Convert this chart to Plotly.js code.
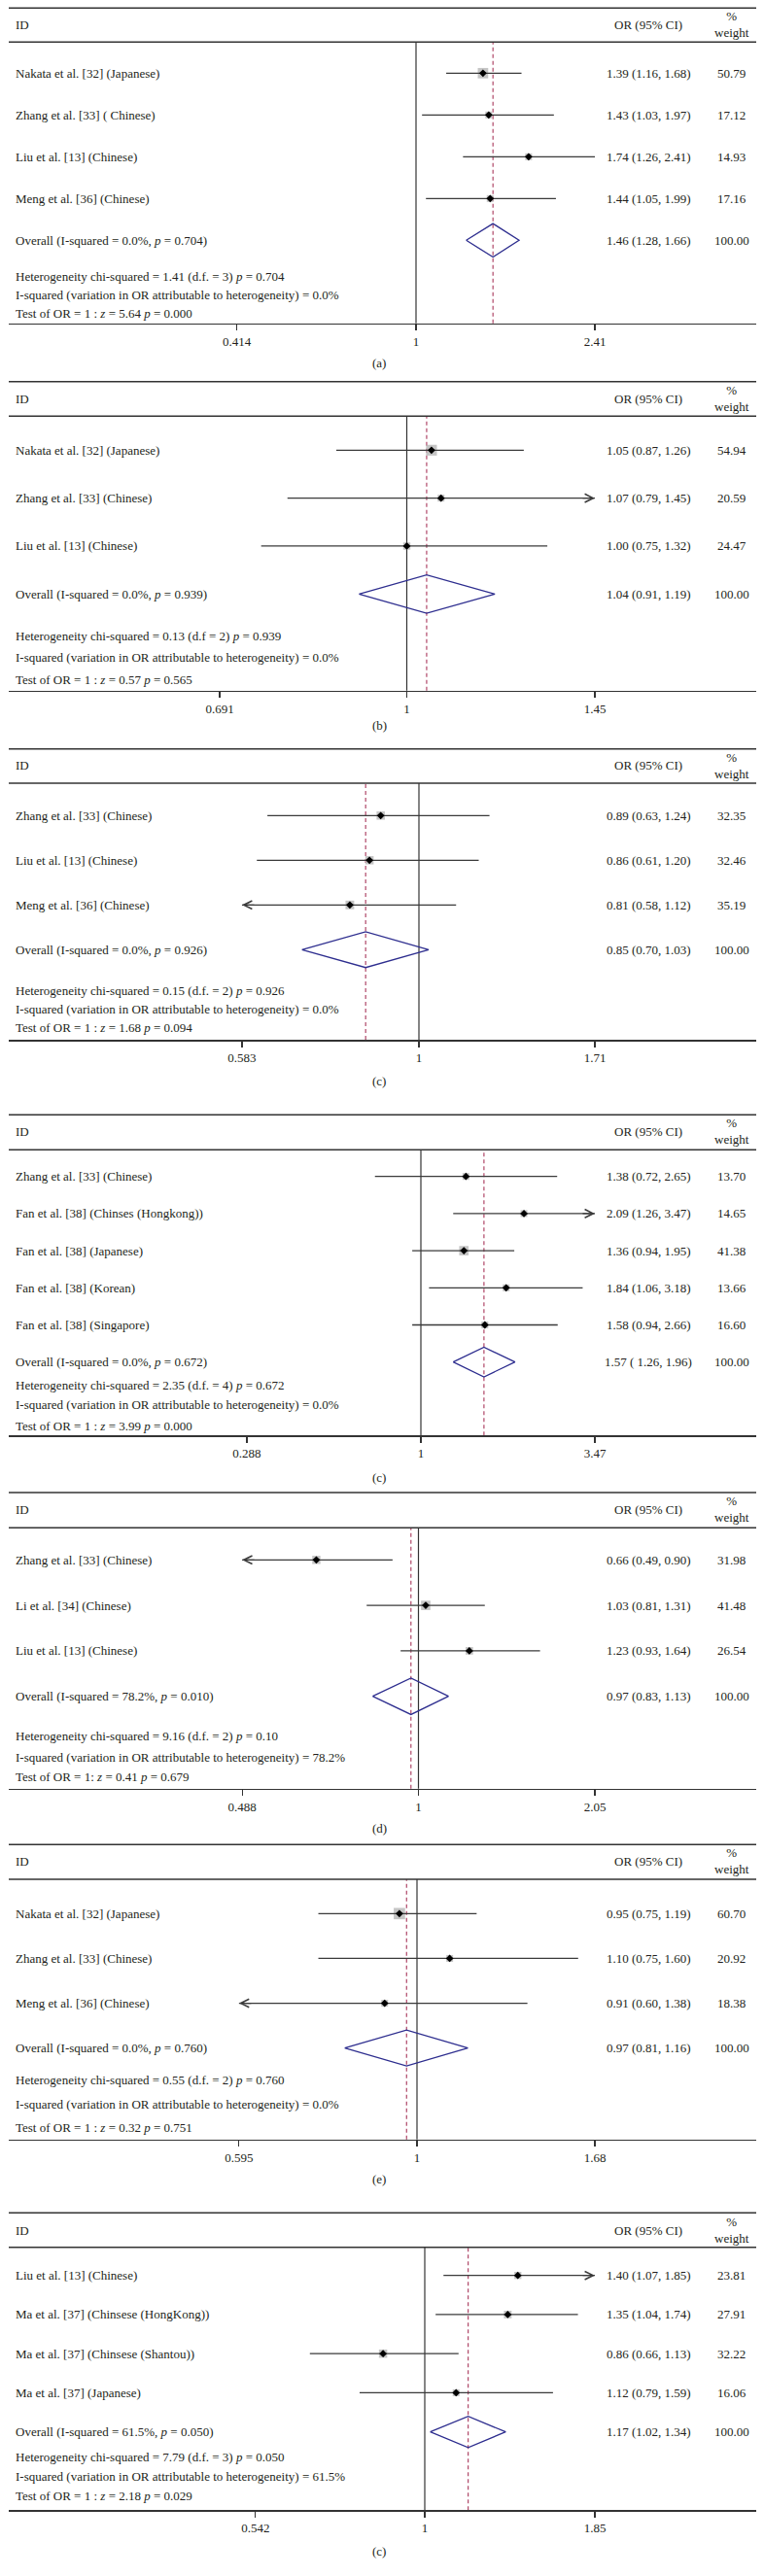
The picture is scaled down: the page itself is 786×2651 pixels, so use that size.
<!DOCTYPE html>
<html><head><meta charset="utf-8">
<script src="https://cdn.plot.ly/plotly-3.0.1.min.js"></script>
<style>html,body{margin:0;padding:0;background:#fff}</style>
</head><body><div id="chart" style="width:786px;height:2651px"></div>
<script>
// ---------------- DATA ----------------
// Panel (a)
const studiesA = ['Nakata et al. [32] (Japanese)','Zhang et al. [33] ( Chinese)','Liu et al. [13] (Chinese)','Meng et al. [36] (Chinese)'];
const orA = [1.39,1.43,1.74,1.44];
const loA = [1.16,1.03,1.26,1.05];
const hiA = [1.68,1.97,2.41,1.99];
const wtA = [50.79,17.12,14.93,17.16];
const arrowA = ['','','',''];
const overallA = [1.46,1.28,1.66];
const overallLabelA = 'Overall (I-squared = 0.0%, <i>p</i> = 0.704)';
const notesA = ['Heterogeneity chi-squared = 1.41 (d.f. = 3) <i>p</i> = 0.704','I-squared (variation in OR attributable to heterogeneity) = 0.0%','Test of OR = 1 : <i>z</i> = 5.64 <i>p</i> = 0.000'];
const ticksA = [0.414,1,2.41];
const tickLabelsA = ['0.414','1','2.41'];

// Panel (b)
const studiesB = ['Nakata et al. [32] (Japanese)','Zhang et al. [33] (Chinese)','Liu et al. [13] (Chinese)'];
const orB = [1.05,1.07,1.00];
const loB = [0.87,0.79,0.75];
const hiB = [1.26,1.45,1.32];
const wtB = [54.94,20.59,24.47];
const arrowB = ['','R',''];
const overallB = [1.04,0.91,1.19];
const overallLabelB = 'Overall (I-squared = 0.0%, <i>p</i> = 0.939)';
const notesB = ['Heterogeneity chi-squared = 0.13 (d.f = 2) <i>p</i> = 0.939','I-squared (variation in OR attributable to heterogeneity) = 0.0%','Test of OR = 1 : <i>z</i> = 0.57 <i>p</i> = 0.565'];
const ticksB = [0.691,1,1.45];
const tickLabelsB = ['0.691','1','1.45'];

// Panel (c)
const studiesC = ['Zhang et al. [33] (Chinese)','Liu et al. [13] (Chinese)','Meng et al. [36] (Chinese)'];
const orC = [0.89,0.86,0.81];
const loC = [0.63,0.61,0.58];
const hiC = [1.24,1.20,1.12];
const wtC = [32.35,32.46,35.19];
const arrowC = ['','','L'];
const overallC = [0.85,0.70,1.03];
const overallLabelC = 'Overall (I-squared = 0.0%, <i>p</i> = 0.926)';
const notesC = ['Heterogeneity chi-squared = 0.15 (d.f. = 2) <i>p</i> = 0.926','I-squared (variation in OR attributable to heterogeneity) = 0.0%','Test of OR = 1 : <i>z</i> = 1.68 <i>p</i> = 0.094'];
const ticksC = [0.583,1,1.71];
const tickLabelsC = ['0.583','1','1.71'];

// Panel (c) second
const studiesD = ['Zhang et al. [33] (Chinese)','Fan et al. [38] (Chinses (Hongkong))','Fan et al. [38] (Japanese)','Fan et al. [38] (Korean)','Fan et al. [38] (Singapore)'];
const orD = [1.38,2.09,1.36,1.84,1.58];
const loD = [0.72,1.26,0.94,1.06,0.94];
const hiD = [2.65,3.47,1.95,3.18,2.66];
const wtD = [13.70,14.65,41.38,13.66,16.60];
const arrowD = ['','R','','',''];
const overallD = [1.57,1.26,1.96];
const overallLabelD = 'Overall (I-squared = 0.0%, <i>p</i> = 0.672)';
const overallCiTextD = '1.57 ( 1.26, 1.96)';
const notesD = ['Heterogeneity chi-squared = 2.35 (d.f. = 4) <i>p</i> = 0.672','I-squared (variation in OR attributable to heterogeneity) = 0.0%','Test of OR = 1 : <i>z</i> = 3.99 <i>p</i> = 0.000'];
const ticksD = [0.288,1,3.47];
const tickLabelsD = ['0.288','1','3.47'];

// Panel (d)
const studiesE = ['Zhang et al. [33] (Chinese)','Li et al. [34] (Chinese)','Liu et al. [13] (Chinese)'];
const orE = [0.66,1.03,1.23];
const loE = [0.49,0.81,0.93];
const hiE = [0.90,1.31,1.64];
const wtE = [31.98,41.48,26.54];
const arrowE = ['L','',''];
const overallE = [0.97,0.83,1.13];
const overallLabelE = 'Overall (I-squared = 78.2%, <i>p</i> = 0.010)';
const notesE = ['Heterogeneity chi-squared = 9.16 (d.f. = 2) <i>p</i> = 0.10','I-squared (variation in OR attributable to heterogeneity) = 78.2%','Test of OR = 1: <i>z</i> = 0.41 <i>p</i> = 0.679'];
const ticksE = [0.488,1,2.05];
const tickLabelsE = ['0.488','1','2.05'];

// Panel (e)
const studiesF = ['Nakata et al. [32] (Japanese)','Zhang et al. [33] (Chinese)','Meng et al. [36] (Chinese)'];
const orF = [0.95,1.10,0.91];
const loF = [0.75,0.75,0.60];
const hiF = [1.19,1.60,1.38];
const wtF = [60.70,20.92,18.38];
const arrowF = ['','','L'];
const overallF = [0.97,0.81,1.16];
const overallLabelF = 'Overall (I-squared = 0.0%, <i>p</i> = 0.760)';
const notesF = ['Heterogeneity chi-squared = 0.55 (d.f. = 2) <i>p</i> = 0.760','I-squared (variation in OR attributable to heterogeneity) = 0.0%','Test of OR = 1 : <i>z</i> = 0.32 <i>p</i> = 0.751'];
const ticksF = [0.595,1,1.68];
const tickLabelsF = ['0.595','1','1.68'];

// Panel (c) last
const studiesG = ['Liu et al. [13] (Chinese)','Ma et al. [37] (Chinsese (HongKong))','Ma et al. [37] (Chinsese (Shantou))','Ma et al. [37] (Japanese)'];
const orG = [1.40,1.35,0.86,1.12];
const loG = [1.07,1.04,0.66,0.79];
const hiG = [1.85,1.74,1.13,1.59];
const wtG = [23.81,27.91,32.22,16.06];
const arrowG = ['R','','',''];
const overallG = [1.17,1.02,1.34];
const overallLabelG = 'Overall (I-squared = 61.5%, <i>p</i> = 0.050)';
const notesG = ['Heterogeneity chi-squared = 7.79 (d.f. = 3) <i>p</i> = 0.050','I-squared (variation in OR attributable to heterogeneity) = 61.5%','Test of OR = 1 : <i>z</i> = 2.18 <i>p</i> = 0.029'];
const ticksG = [0.542,1,1.85];
const tickLabelsG = ['0.542','1','1.85'];

const captions = ['(a)','(b)','(c)','(c)','(d)','(e)','(c)'];
const headerId = 'ID';
const headerOr = 'OR (95% CI)';
const headerWt = '%<br>weight';

// ---------------- LAYOUT (pixel positions on the page) ----------------
const W = 786, H = 2651, ML = 9, MR = 8;
const PW = W - ML - MR;
const PX = [
  {top:8.3,   head:43.3,   row0:75.3,   over:247.3,  axis:332.7,  id:25,     foot:[284.3,303.3,322.3],   cap:374,    p1:428},
  {top:392.7, head:428.3,  row0:463.3,  over:611.3,  axis:710.7,  id:410,    foot:[654,676.3,699.3],     cap:746.7,  p1:418.5},
  {top:770.7, head:806,    row0:839.3,  over:977.3,  axis:1070,   id:787.7,  foot:[1019.3,1038,1057],    cap:1112.7, p1:431},
  {top:1147.3,head:1183.3, row0:1210.7, over:1401.7, axis:1477.3, id:1164.3, foot:[1425,1445.7,1467.3],  cap:1520,   p1:433},
  {top:1536,  head:1572.3, row0:1605.3, over:1745.7, axis:1840.7, id:1553.3, foot:[1786.7,1808,1828.7],  cap:1881.7, p1:430.5},
  {top:1898.3,head:1934,   row0:1969.3, over:2107.7, axis:2201.7, id:1915,   foot:[2140,2165,2189.3],    cap:2242.7, p1:429},
  {top:2277.3,head:2312.7, row0:2341.7, over:2502.7, axis:2583.3, id:2295,   foot:[2528.7,2548.7,2568.3],cap:2625,   p1:437}
];
const P_RIGHT_TICK = 612;
const X_NAME = 13.5, X_OR = 667, X_WT = 752.7, X_CAP = 390;

const FONT = 'Liberation Serif, Times New Roman, serif';
const TXT = '#231f20';
const FS = 13;

const panels = [
  {s:studiesA,o:orA,l:loA,h:hiA,w:wtA,a:arrowA,ov:overallA,ovl:overallLabelA,notes:notesA,t:ticksA,tl:tickLabelsA},
  {s:studiesB,o:orB,l:loB,h:hiB,w:wtB,a:arrowB,ov:overallB,ovl:overallLabelB,notes:notesB,t:ticksB,tl:tickLabelsB},
  {s:studiesC,o:orC,l:loC,h:hiC,w:wtC,a:arrowC,ov:overallC,ovl:overallLabelC,notes:notesC,t:ticksC,tl:tickLabelsC},
  {s:studiesD,o:orD,l:loD,h:hiD,w:wtD,a:arrowD,ov:overallD,ovl:overallLabelD,notes:notesD,t:ticksD,tl:tickLabelsD,ovTxt:overallCiTextD},
  {s:studiesE,o:orE,l:loE,h:hiE,w:wtE,a:arrowE,ov:overallE,ovl:overallLabelE,notes:notesE,t:ticksE,tl:tickLabelsE},
  {s:studiesF,o:orF,l:loF,h:hiF,w:wtF,a:arrowF,ov:overallF,ovl:overallLabelF,notes:notesF,t:ticksF,tl:tickLabelsF},
  {s:studiesG,o:orG,l:loG,h:hiG,w:wtG,a:arrowG,ov:overallG,ovl:overallLabelG,notes:notesG,t:ticksG,tl:tickLabelsG}
];

const px2paperX = p => (p - ML) / PW;
const py2paperY = p => 1 - p / H;
const fmtCI = (o,l,h) => o.toFixed(2) + ' (' + l.toFixed(2) + ', ' + h.toFixed(2) + ')';

const traces = [], shapes = [], annotations = [];
const layout = {
  width: W, height: H,
  margin: {l: ML, r: MR, t: 0, b: 0, pad: 0},
  paper_bgcolor: '#fff', plot_bgcolor: 'rgba(0,0,0,0)',
  showlegend: false, hovermode: false,
  font: {family: FONT, size: FS, color: TXT}
};

panels.forEach((pn, i) => {
  const g = PX[i];
  const sfx = i === 0 ? '' : String(i + 1);
  const xa = 'x' + sfx, ya = 'y' + sfx;
  const n = pn.s.length;
  const k = (P_RIGHT_TICK - g.p1) / Math.log10(pn.t[2]);
  const r0 = (ML - g.p1) / k, r1 = (ML + PW - g.p1) / k;
  layout['xaxis' + sfx] = {
    type: 'log', range: [r0, r1], domain: [0, 1], anchor: ya,
    tickvals: pn.t, ticktext: pn.tl, ticks: 'outside', ticklen: 6, tickwidth: 1.2, tickcolor: '#333',
    showline: true, linecolor: '#333', linewidth: 1.5, showgrid: false, zeroline: false,
    tickfont: {family: FONT, size: FS, color: TXT}, fixedrange: true
  };
  const s = (g.over - g.row0) / n;
  layout['yaxis' + sfx] = {
    domain: [py2paperY(g.axis), py2paperY(g.head)], anchor: xa,
    range: [n + (g.axis - g.over) / s, -(g.row0 - g.head) / s],
    showgrid: false, zeroline: false, showline: false, showticklabels: false, ticks: '', fixedrange: true
  };
  const rows = pn.s.map((_, j) => j);

  // weight boxes
  traces.push({
    type: 'scatter', mode: 'markers', xaxis: xa, yaxis: ya, x: pn.o, y: rows,
    marker: {symbol: 'square', color: '#adadad', size: pn.w.map(w => Math.max(7, 1.5 * Math.sqrt(w))), line: {width: 0}},
    cliponaxis: false
  });
  // CI lines
  const cx = [], cy = [];
  pn.s.forEach((_, j) => {
    const a = pn.a[j];
    cx.push(a === 'L' ? pn.t[0] : pn.l[j], a === 'R' ? pn.t[2] : pn.h[j], null);
    cy.push(j, j, null);
  });
  traces.push({type: 'scatter', mode: 'lines', xaxis: xa, yaxis: ya, x: cx, y: cy,
    line: {color: '#3a3a3a', width: 1.3}, cliponaxis: false});
  // point estimates
  traces.push({type: 'scatter', mode: 'markers', xaxis: xa, yaxis: ya, x: pn.o, y: rows,
    marker: {symbol: 'diamond', color: '#000', size: 6}, cliponaxis: false});
  // overall diamond
  const [oe, ol, oh] = pn.ov;
  traces.push({type: 'scatter', mode: 'lines', xaxis: xa, yaxis: ya,
    x: [ol, oe, oh, oe, ol], y: [n, n - 0.4, n, n + 0.4, n],
    line: {color: '#2e2e8f', width: 1.3}, cliponaxis: false});

  // arrows for truncated CIs
  pn.s.forEach((_, j) => {
    const a = pn.a[j];
    if (!a) return;
    annotations.push({
      xref: xa, yref: ya, x: Math.log10(a === 'L' ? pn.t[0] : pn.t[2]), y: j,
      ax: a === 'L' ? 14 : -14, ay: 0, text: '', showarrow: true,
      arrowhead: 5, arrowsize: 1.4, arrowwidth: 1.2, arrowcolor: '#3a3a3a', standoff: 0
    });
  });

  shapes.push({type: 'line', xref: xa, yref: ya + ' domain', x0: 1, x1: 1, y0: 0, y1: 1,
    line: {color: '#333', width: 1.2}, layer: 'below'});
  shapes.push({type: 'line', xref: xa, yref: ya + ' domain', x0: oe, x1: oe, y0: 0, y1: 1,
    line: {color: '#a8365a', width: 1.1, dash: '4px,3px'}, layer: 'below'});
  shapes.push({type: 'line', xref: 'paper', yref: 'paper', x0: 0, x1: 1, y0: py2paperY(g.top), y1: py2paperY(g.top),
    line: {color: '#333', width: 1.5}});
  shapes.push({type: 'line', xref: 'paper', yref: ya + ' domain', x0: 0, x1: 1, y0: 1, y1: 1,
    line: {color: '#333', width: 1.5}});

  annotations.push({xref: 'paper', yref: 'paper', x: px2paperX(X_NAME), y: py2paperY(g.id), xanchor: 'left', yanchor: 'middle', text: headerId, showarrow: false});
  annotations.push({xref: 'paper', yref: 'paper', x: px2paperX(X_OR), y: py2paperY(g.id), xanchor: 'center', yanchor: 'middle', text: headerOr, showarrow: false});
  annotations.push({xref: 'paper', yref: 'paper', x: px2paperX(X_WT), y: py2paperY(g.id), xanchor: 'center', yanchor: 'middle', text: headerWt, showarrow: false});

  pn.s.forEach((name, j) => {
    annotations.push({xref: 'paper', yref: ya, x: px2paperX(X_NAME), y: j, xanchor: 'left', yanchor: 'middle', text: name, showarrow: false});
    annotations.push({xref: 'paper', yref: ya, x: px2paperX(X_OR), y: j, xanchor: 'center', yanchor: 'middle', text: fmtCI(pn.o[j], pn.l[j], pn.h[j]), showarrow: false});
    annotations.push({xref: 'paper', yref: ya, x: px2paperX(X_WT), y: j, xanchor: 'center', yanchor: 'middle', text: pn.w[j].toFixed(2), showarrow: false});
  });
  annotations.push({xref: 'paper', yref: ya, x: px2paperX(X_NAME), y: n, xanchor: 'left', yanchor: 'middle', text: pn.ovl, showarrow: false});
  annotations.push({xref: 'paper', yref: ya, x: px2paperX(X_OR), y: n, xanchor: 'center', yanchor: 'middle', text: pn.ovTxt || fmtCI(oe, ol, oh), showarrow: false});
  annotations.push({xref: 'paper', yref: ya, x: px2paperX(X_WT), y: n, xanchor: 'center', yanchor: 'middle', text: (100).toFixed(2), showarrow: false});
  pn.notes.forEach((t, j) => {
    annotations.push({xref: 'paper', yref: 'paper', x: px2paperX(X_NAME), y: py2paperY(g.foot[j]), xanchor: 'left', yanchor: 'middle', text: t, showarrow: false});
  });
  annotations.push({xref: 'paper', yref: 'paper', x: px2paperX(X_CAP), y: py2paperY(g.cap), xanchor: 'center', yanchor: 'middle', text: captions[i], showarrow: false});
});

layout.shapes = shapes;
layout.annotations = annotations;
Plotly.newPlot('chart', traces, layout, {staticPlot: true, displayModeBar: false});
</script></body></html>
